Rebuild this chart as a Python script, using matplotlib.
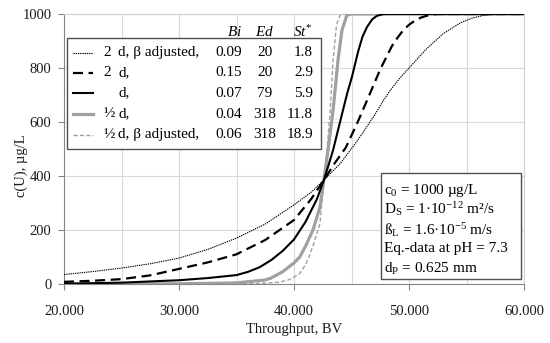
import matplotlib
matplotlib.use('Agg')
import matplotlib.pyplot as plt
from matplotlib.patches import Rectangle
from matplotlib.ticker import MultipleLocator, FuncFormatter

plt.rcParams['font.family'] = ['Liberation Serif', 'DejaVu Serif']
plt.rcParams['mathtext.fontset'] = 'custom'
plt.rcParams['mathtext.rm'] = 'Liberation Serif'
plt.rcParams['mathtext.it'] = 'Liberation Serif:italic'

# breakthrough curves, values (BV, µg/L)
x_2d_adj = [20000, 22500, 25000, 27500, 30000, 32500, 35000, 37500, 40000, 41500, 42600,
            44000, 45500, 47000, 47750, 48500, 49250, 50000, 51500, 53000, 54500, 55500,
            56500, 57500, 60000]
y_2d_adj = [35, 46, 59, 75, 96, 128, 170, 222, 293, 340, 385,
            445, 530, 625, 678, 725, 765, 800, 870, 928, 968, 985,
            995, 999, 1000]

x_2d = [20000, 22500, 25000, 27500, 30000, 32500, 35000, 37500, 40000, 41500, 42600,
        43500, 44500, 45500, 46500, 47500, 48500, 49000, 49500, 50000, 50500, 51000,
        51500, 52000, 52500, 60000]
y_2d = [8, 12, 18, 32, 56, 80, 110, 163, 237, 315, 385,
        445, 505, 596, 695, 795, 880, 912, 940, 960, 975, 986,
        993, 998, 1000, 1000]

x_d = [20000, 25000, 30000, 32500, 35000, 36000, 37000, 38000, 39000, 40000, 41000,
       42000, 42600, 43000, 43400, 43800, 44260, 44650, 45040, 45570, 45950, 46350,
       46800, 47200, 47700, 48000, 60000]
y_d = [1, 5, 14, 22, 33, 45, 62, 88, 122, 165, 230,
       315, 385, 440, 496, 565, 644, 710, 767, 860, 915, 952,
       980, 993, 999, 1000, 1000]

x_half = [20000, 30000, 35000, 37500, 38000, 39000, 40000, 40500, 41000, 41650, 42260,
          42600, 42960, 43400, 43830, 44170, 44600, 45000, 60000]
y_half = [0, 1, 4, 15, 22, 45, 78, 100, 140, 200, 285,
          385, 496, 644, 830, 940, 996, 1000, 1000]

x_half_adj = [20000, 35000, 37500, 38780, 39500, 40000, 40520, 41000, 41300, 41800, 42260,
              42600, 42870, 43150, 43400, 43700, 44000, 44300, 60000]
y_half_adj = [0, 0, 3, 7, 15, 25, 40, 72, 100, 160, 225,
              385, 496, 644, 830, 960, 995, 1000, 1000]

prefixes = ['2', '2', '', '½', '½']
labels = ['d, β adjusted,', 'd,', 'd,', 'd,', 'd, β adjusted,']
bi = ['0.09', '0.15', '0.07', '0.04', '0.06']
ed = ['20', '20', '79', '318', '318']
st = ['1.8', '2.9', '5.9', '11.8', '18.9']

info = [r'c$_0$ = 1000 µg/L',
        r'D$_\mathrm{S}$ = 1·10$^{-12}$ m²/s',
        r'ß$_\mathrm{L}$ = 1.6·10$^{-5}$ m/s',
        'Eq.-data at pH = 7.3',
        r'd$_\mathrm{P}$ = 0.625 mm']

styles = [dict(color='black', lw=0.8, ls=(0, (1.2, 0.8))),
          dict(color='black', lw=1.6, ls=(0, (4.5, 2.5))),
          dict(color='black', lw=1.5, ls='-'),
          dict(color='#a0a0a0', lw=2.3, ls='-'),
          dict(color='#a0a0a0', lw=1.0, ls=(0, (3, 1.6)))]

fig = plt.figure(figsize=(5.5, 3.43), dpi=100)
ax = fig.add_axes([64 / 550, 59 / 343, 460 / 550, 270 / 343])

series = [(x_2d_adj, y_2d_adj), (x_2d, y_2d), (x_d, y_d), (x_half, y_half), (x_half_adj, y_half_adj)]
# grey curves first so the black ones sit on top
for k in [3, 4, 0, 1, 2]:
    xs, ys = series[k]
    ax.plot(xs, ys, solid_capstyle='butt', dash_capstyle='butt', solid_joinstyle='round', zorder=3, **styles[k])

ax.set_xlim(20000, 60000)
ax.set_ylim(0, 1000)
ax.xaxis.set_major_locator(MultipleLocator(10000))
ax.xaxis.set_minor_locator(MultipleLocator(5000))
ax.yaxis.set_major_locator(MultipleLocator(200))
ax.xaxis.set_major_formatter(FuncFormatter(lambda v, p: f'{v:,.0f}'.replace(',', '.')))
ax.grid(which='both', axis='x', color='#d9d9d9', lw=0.8)
ax.grid(which='major', axis='y', color='#d9d9d9', lw=0.8)
ax.set_axisbelow(True)
ax.tick_params(which='major', direction='out', length=4, color='#868686', labelsize=10.5, labelcolor='#1a1a1a')
ax.tick_params(axis='x', which='major', pad=11)
ax.tick_params(axis='y', which='major', pad=5)
ax.tick_params(which='minor', length=0)
for s in ['left', 'bottom']:
    ax.spines[s].set_color('#868686')
for s in ['top', 'right']:
    ax.spines[s].set_color('#d0d0d0')

ax.set_xlabel('Throughput, BV', fontsize=10.5, color='#1a1a1a', labelpad=4)
ax.set_ylabel('c(U), µg/L', fontsize=10.5, color='#1a1a1a')
ax.yaxis.set_label_coords(-0.078, 0.44)

# legend table, built by hand
tr = ax.transAxes
ax.add_patch(Rectangle((0.0065, 0.5), 0.552, 0.411, transform=tr, facecolor='white',
                       edgecolor='#505050', lw=1.0, zorder=5))
row_y = [0.8556, 0.7815, 0.7074, 0.6296, 0.5519]
fs = 11
ax.text(0.387, 0.933, r'$\mathit{Bi}$', transform=tr, ha='right', va='center', fontsize=fs, zorder=6)
ax.text(0.437, 0.933, r'$\mathit{Ed}$', transform=tr, ha='center', va='center', fontsize=fs, zorder=6)
ax.text(0.5413, 0.933, r'$\mathit{St}^{*}$', transform=tr, ha='right', va='center', fontsize=fs, zorder=6)
for k in range(5):
    yy = row_y[k]
    ax.plot([0.0196, 0.063], [yy, yy], transform=tr, zorder=6, dash_capstyle='butt', **styles[k])
    ax.text(0.0848, yy, prefixes[k], transform=tr, ha='left', va='center', fontsize=fs, zorder=6)
    ax.text(0.1174, yy, labels[k], transform=tr, ha='left', va='center', fontsize=fs, zorder=6)
    ax.text(0.387, yy, bi[k], transform=tr, ha='right', va='center', fontsize=fs, zorder=6)
    ax.text(0.437, yy, ed[k], transform=tr, ha='center', va='center', fontsize=fs, zorder=6)
    ax.text(0.5413, yy, st[k], transform=tr, ha='right', va='center', fontsize=fs, zorder=6)

# parameter box
ax.add_patch(Rectangle((0.689, 0.0185), 0.3045, 0.3925, transform=tr, facecolor='white',
                       edgecolor='#505050', lw=1.0, zorder=5))
info_y = [0.348, 0.278, 0.2, 0.133, 0.0556]
for t, yy in zip(info, info_y):
    ax.text(0.6957, yy, t, transform=tr, ha='left', va='center', fontsize=fs, zorder=6)

fig.savefig('out.png', dpi=100)
